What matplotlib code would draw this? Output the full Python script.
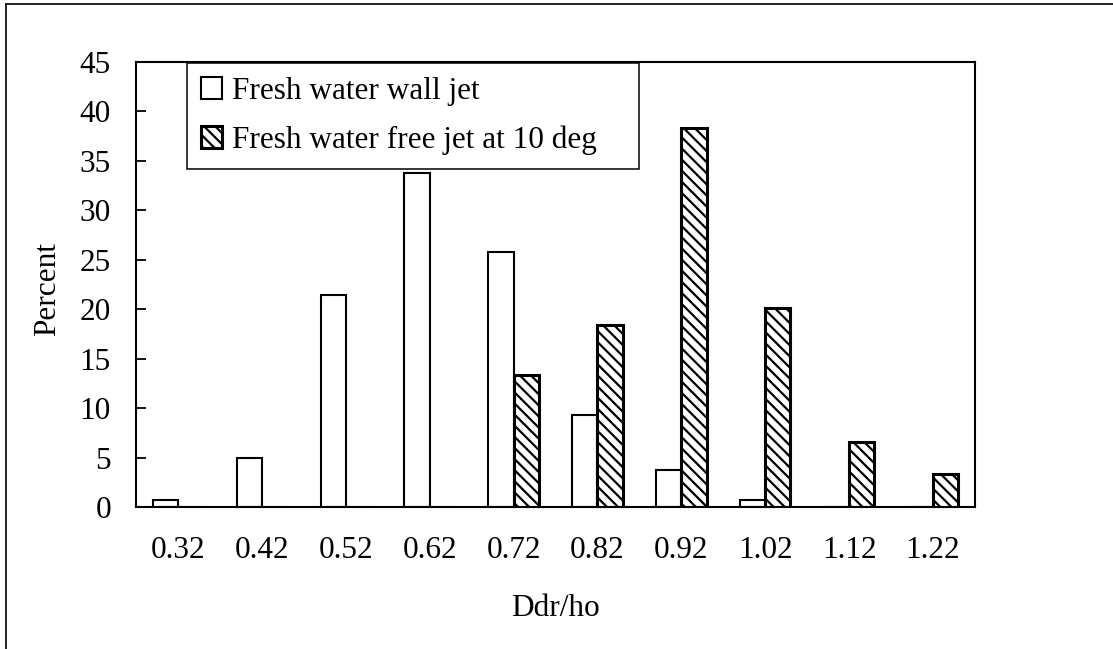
import numpy as np
import matplotlib
matplotlib.use('Agg')
import matplotlib.pyplot as plt
from matplotlib.lines import Line2D

# Ddr/ho class distribution for the two jet configurations
categories = ['0.32', '0.42', '0.52', '0.62', '0.72', '0.82', '0.92', '1.02', '1.12', '1.22']
wall_jet = [0.7, 5.0, 21.4, 33.8, 25.8, 9.3, 3.7, 0.7, 0.0, 0.0]
free_jet = [0.0, 0.0, 0.0, 0.0, 13.3, 18.4, 38.3, 20.1, 6.6, 3.3]
yticks = [0, 5, 10, 15, 20, 25, 30, 35, 40, 45]

plt.rcParams['font.family'] = ['Liberation Serif', 'DejaVu Serif']
plt.rcParams['font.size'] = 22.5
plt.rcParams['hatch.linewidth'] = 1.6

fig = plt.figure(figsize=(11.13, 6.49), dpi=100)
ax = fig.add_axes([136 / 1113, 1 - 507 / 649, 839 / 1113, 445 / 649])

x = np.arange(len(categories))
w = 0.3
ax.bar(x - w / 2, wall_jet, w, facecolor='white', edgecolor='black', linewidth=1.5,
       label='Fresh water wall jet')
ax.bar(x + w / 2, free_jet, w, facecolor='white', edgecolor='black', linewidth=2.2,
       hatch='\\\\\\', label='Fresh water free jet at 10 deg')

ax.set_xlim(-0.5, len(categories) - 0.5)
ax.set_ylim(0, 45)
ax.set_yticks(yticks)
ax.set_xticks(x)
ax.set_xticklabels(categories)
ax.tick_params(axis='y', direction='in', length=7, width=1.3, pad=18)
ax.tick_params(axis='x', length=0, pad=21)
for s in ax.spines.values():
    s.set_linewidth(1.5)

ax.set_ylabel('Percent')
ax.yaxis.set_label_coords(-0.088, 0.49)
ax.set_xlabel('Ddr/ho')
ax.xaxis.set_label_coords(0.5, -0.195)

leg = ax.legend(loc='upper left', bbox_to_anchor=(187 / 1113, 1 - 63 / 649, 452 / 1113, 0.0),
                bbox_transform=fig.transFigure, mode='expand', borderaxespad=0,
                fancybox=False, framealpha=1, edgecolor='black', borderpad=0.45,
                labelspacing=0.62, handlelength=0.68, handleheight=0.68, handletextpad=0.3)
leg.get_frame().set_linewidth(1.1)

# border lines around the figure
fig.add_artist(Line2D([6 / 1113, 6 / 1113], [0, 1 - 4 / 649], color='black', lw=1.2,
                      transform=fig.transFigure))
fig.add_artist(Line2D([6 / 1113, 1], [1 - 4 / 649, 1 - 4 / 649], color='black', lw=1.2,
                      transform=fig.transFigure))

fig.savefig('out.png', dpi=100)
